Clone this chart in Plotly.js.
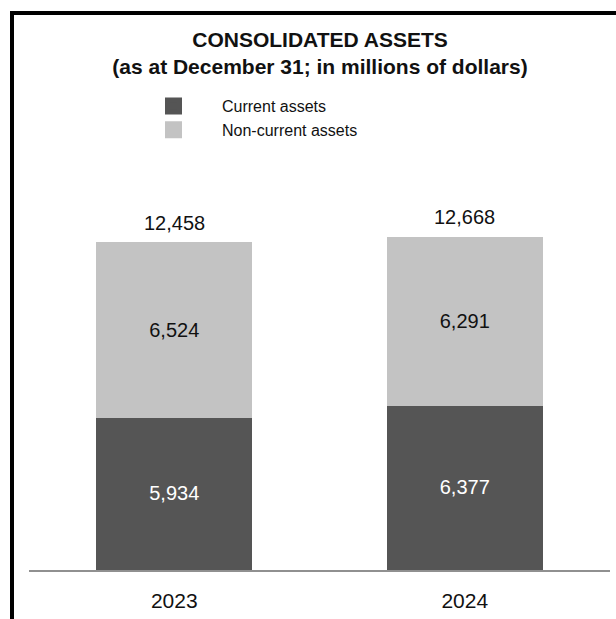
<!DOCTYPE html>
<html>
<head>
<meta charset="utf-8">
<script src="https://cdn.plot.ly/plotly-3.0.1.min.js"></script>
<style>
  html, body { margin: 0; padding: 0; background: #fff; }
  #chart { width: 616px; height: 619px; }
</style>
</head>
<body>
<div id="chart"></div>
<script>
// ---- data ----
const years = ["2023", "2024"];
const currentAssets = [5934, 6377];
const nonCurrentAssets = [6524, 6291];
const totalAssets = [12458, 12668];
const seriesNames = ["Current assets", "Non-current assets"];
const titleText = "CONSOLIDATED ASSETS<br>(as at December 31; in millions of dollars)";

// ---- layout constants (pixels) ----
const W = 616, H = 619;
const mL = 29, mR = 6, mT = 150, mB = 49;
const plotW = W - mL - mR, plotH = H - mT - mB;
const px2x = px => (px - mL) / plotW;
const py2y = py => (H - mB - py) / plotH;

const FONT = "Liberation Sans, Arial, Helvetica, sans-serif";
const DARK = "#555555", LIGHT = "#c3c3c3";

const fmt = v => v.toLocaleString("en-US");

const traces = [
  {
    type: "bar",
    name: seriesNames[0],
    x: years,
    y: currentAssets,
    width: 0.52,
    marker: { color: DARK, line: { color: DARK, width: 5 } },
    texttemplate: "%{y:,}",
    textposition: "inside",
    insidetextanchor: "middle",
    textangle: 0,
    constraintext: "none",
    insidetextfont: { family: FONT, size: 20, color: "#ffffff" },
    hoverinfo: "skip"
  },
  {
    type: "bar",
    name: seriesNames[1],
    x: years,
    y: nonCurrentAssets,
    width: 0.52,
    marker: { color: LIGHT, line: { color: LIGHT, width: 5 } },
    texttemplate: "%{y:,}",
    textposition: "inside",
    insidetextanchor: "middle",
    textangle: 0,
    constraintext: "none",
    insidetextfont: { family: FONT, size: 20, color: "#111111" },
    hoverinfo: "skip"
  }
];

// total labels above each stacked bar (category index positions)
const annotations = years.map((yr, i) => ({
  x: i, y: totalAssets[i], xref: "x", yref: "y",
  text: fmt(totalAssets[i]),
  showarrow: false, yanchor: "middle", yshift: 22,
  font: { family: FONT, size: 20, color: "#111111" }
}));

const shapes = [
  // frame: top and left edges
  { type: "line", xref: "paper", yref: "paper",
    x0: px2x(10), x1: px2x(630), y0: py2y(13), y1: py2y(13),
    line: { color: "#000", width: 4 } },
  { type: "line", xref: "paper", yref: "paper",
    x0: px2x(12), x1: px2x(12), y0: py2y(11), y1: py2y(640),
    line: { color: "#000", width: 4 } }
];

const layout = {
  width: W, height: H,
  margin: { l: mL, r: mR, t: mT, b: mB, pad: 0, autoexpand: false },
  paper_bgcolor: "#ffffff",
  plot_bgcolor: "#ffffff",
  font: { family: FONT, color: "#111111" },
  title: {
    text: titleText,
    font: { family: FONT, size: 21, weight: 700, color: "#111111" },
    xref: "container", yref: "container",
    x: 320 / W, xanchor: "center",
    y: 1 - 47 / H, yanchor: "top"
  },
  barmode: "stack",
  showlegend: true,
  legend: {
    xref: "container", yref: "container",
    x: 125 / W, xanchor: "left",
    y: 1 - 89 / H, yanchor: "top",
    traceorder: "normal",
    orientation: "v",
    font: { family: FONT, size: 16, color: "#111111" },
    bgcolor: "rgba(0,0,0,0)",
    itemwidth: 87
  },
  xaxis: {
    type: "category",
    range: [-0.5, 1.5],
    showgrid: false, zeroline: false,
    showline: true, linecolor: "#909090", linewidth: 2,
    ticks: "outside", ticklen: 11, tickcolor: "rgba(0,0,0,0)",
    tickfont: { family: FONT, size: 21, color: "#111111" },
    fixedrange: true
  },
  yaxis: {
    range: [0, plotH / 0.0261],
    visible: false,
    showgrid: false, zeroline: false,
    fixedrange: true
  },
  annotations: annotations,
  shapes: shapes
};

Plotly.newPlot("chart", traces, layout, { displayModeBar: false, staticPlot: true });
</script>
</body>
</html>
